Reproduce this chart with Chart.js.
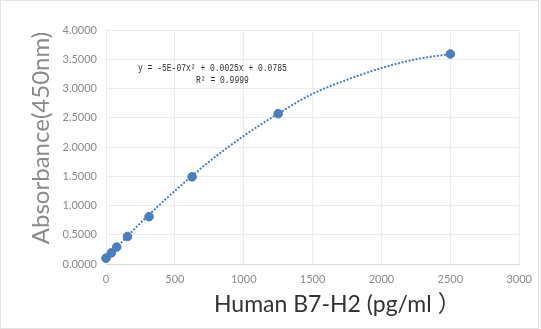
<!DOCTYPE html>
<html>
<head>
<meta charset="utf-8">
<script src="https://cdn.jsdelivr.net/npm/chart.js@4.4.1/dist/chart.umd.min.js"></script>
<style>
  html, body { margin: 0; padding: 0; background: #ffffff; }
  canvas { display: block; }
</style>
</head>
<body>
<canvas id="c" width="541" height="329"></canvas>
<script>
// Standard concentrations (pg/ml) and measured absorbance
const concentrations = [0, 39, 78, 156, 312.5, 625, 1250, 2500];
const absorbance = [0.10, 0.19, 0.29, 0.47, 0.81, 1.49, 2.57, 3.59];

// Trendline (polynomial)
const trendX = [0, 250, 500, 750, 1000, 1250, 1500, 1750, 2000, 2250, 2500];
const trendY = [0.09, 0.70, 1.25, 1.75, 2.19, 2.57, 2.91, 3.15, 3.35, 3.50, 3.59];

// Axis ticks
const yTicks = [0, 0.5, 1.0, 1.5, 2.0, 2.5, 3.0, 3.5, 4.0];
const xTicks = [0, 500, 1000, 1500, 2000, 2500, 3000];

// Texts
const yTitle = 'Absorbance(450nm)';
const xTitleMain = 'Human B7-H2 (pg/ml';
const xTitleParen = '\uFF09';
const eqLine1 = 'y = -5E-07x\u00B2 + 0.0025x + 0.0785';
const eqLine2 = 'R\u00B2 = 0.9999';

const blue = '#4a7ebf';

const overlay = {
  id: 'overlay',
  afterDraw(chart) {
    const ctx = chart.ctx;
    ctx.save();
    // outer light frame
    ctx.strokeStyle = '#e4e4e4';
    ctx.lineWidth = 1;
    ctx.strokeRect(0.5, 0.5, chart.width - 3, chart.height - 1);
    // y title
    ctx.fillStyle = '#8a8a8a';
    ctx.font = '24px Lato, "Liberation Sans", sans-serif';
    ctx.textAlign = 'center';
    ctx.textBaseline = 'middle';
    ctx.translate(41, 138);
    ctx.rotate(-Math.PI / 2);
    ctx.fillText(yTitle, 0, 0);
    ctx.restore();

    // x title (main part + full-width paren)
    ctx.save();
    ctx.fillStyle = '#333333';
    ctx.textBaseline = 'alphabetic';
    ctx.textAlign = 'left';
    const f1 = '23px Lato, "Liberation Sans", sans-serif';
    const f2 = '23px "Noto Sans CJK SC", sans-serif';
    ctx.font = f1;
    const w1 = ctx.measureText(xTitleMain).width;
    const x0 = 214;
    ctx.fillText(xTitleMain, x0, 312);
    ctx.font = f2;
    ctx.fillText(xTitleParen, x0 + w1 + 6, 312);
    ctx.restore();

    // trendline equation
    ctx.save();
    ctx.fillStyle = '#333333';
    ctx.font = '10px "Liberation Mono", "DejaVu Sans Mono", monospace';
    ctx.textBaseline = 'middle';
    ctx.textAlign = 'left';
    ctx.translate(138, 68);
    ctx.scale(0.8, 1);
    ctx.fillText(eqLine1, 0, 0);
    ctx.restore();
    ctx.save();
    ctx.fillStyle = '#333333';
    ctx.font = '10px "Liberation Mono", "DejaVu Sans Mono", monospace';
    ctx.textBaseline = 'middle';
    ctx.textAlign = 'left';
    ctx.translate(196, 80);
    ctx.scale(0.8, 1);
    ctx.fillText(eqLine2, 0, 0);
    ctx.restore();
  }
};

new Chart(document.getElementById('c'), {
  type: 'scatter',
  data: {
    datasets: [
      {
        label: 'Trend',
        type: 'line',
        data: trendX.map((x, i) => ({ x: x, y: trendY[i] })),
        borderColor: blue,
        borderWidth: 2,
        borderDash: [2, 1.6],
        pointRadius: 0,
        fill: false,
        clip: false,
        cubicInterpolationMode: 'monotone',
        order: 2
      },
      {
        label: 'Standard',
        data: concentrations.map((x, i) => ({ x: x, y: absorbance[i] })),
        backgroundColor: blue,
        borderColor: blue,
        pointRadius: 4.3,
        pointHoverRadius: 4.3,
        showLine: false,
        clip: false,
        order: 1
      }
    ]
  },
  options: {
    responsive: false,
    animation: false,
    devicePixelRatio: 1,
    layout: { padding: { top: 30, right: 20, left: 0, bottom: 0 } },
    plugins: { legend: { display: false }, tooltip: { enabled: false } },
    scales: {
      x: {
        type: 'linear',
        min: 0, max: 3000,
        afterBuildTicks(scale) { scale.ticks = xTicks.map(v => ({ value: v })); },
        afterFit(scale) { scale.height = 65; },
        grid: { color: '#ececec', drawTicks: false },
        border: { color: '#d9d9d9' },
        ticks: { padding: 9, color: '#8a8a8a', font: { family: 'Lato, "Liberation Sans", sans-serif', size: 11 }, callback: v => String(v) }
      },
      y: {
        type: 'linear',
        min: 0, max: 4,
        afterBuildTicks(scale) { scale.ticks = yTicks.map(v => ({ value: v })); },
        afterFit(scale) { scale.width = 106; },
        grid: { color: '#ececec', drawTicks: false },
        border: { display: false },
        ticks: { padding: 9, color: '#8a8a8a', font: { family: 'Lato, "Liberation Sans", sans-serif', size: 11 }, callback: v => Number(v).toFixed(4) }
      }
    }
  },
  plugins: [overlay]
});
</script>
</body>
</html>
